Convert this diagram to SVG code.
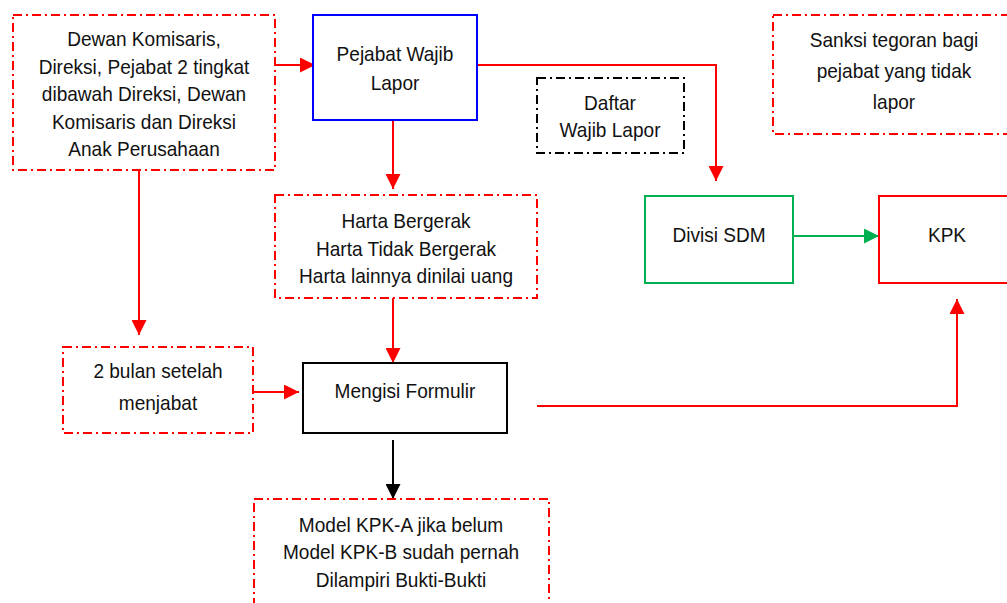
<svg xmlns="http://www.w3.org/2000/svg" width="1007" height="603" viewBox="0 0 1007 603">
<style>
.t{font-family:"Liberation Sans",Arial,sans-serif;font-size:20.5px;fill:#111;text-anchor:middle}
.dd{fill:#fff;stroke:#FF0000;stroke-width:2;stroke-dasharray:9 4 2 4}
.ddk{fill:#fff;stroke:#000;stroke-width:2;stroke-dasharray:9 4 2 4}
.c{fill:none;stroke-width:2}
</style>
<defs>
<marker id="ar" markerUnits="userSpaceOnUse" markerWidth="15" markerHeight="15" refX="15" refY="7.5" orient="auto"><path d="M0,0 L15,7.5 L0,15 z" fill="#FF0000"/></marker>
<marker id="ag" markerUnits="userSpaceOnUse" markerWidth="15" markerHeight="15" refX="15" refY="7.5" orient="auto"><path d="M0,0 L15,7.5 L0,15 z" fill="#00B050"/></marker>
<marker id="ak" markerUnits="userSpaceOnUse" markerWidth="15" markerHeight="15" refX="15" refY="7.5" orient="auto"><path d="M0,0 L15,7.5 L0,15 z" fill="#000"/></marker>
</defs>
<rect width="1007" height="603" fill="#fff"/>
<g id="connectors">
<path class="c" stroke="#FF0000" d="M275,65 H315" marker-end="url(#ar)"/>
<path class="c" stroke="#FF0000" d="M477,65 H716 V181" marker-end="url(#ar)"/>
<path class="c" stroke="#FF0000" d="M393,120 V189" marker-end="url(#ar)"/>
<path class="c" stroke="#FF0000" d="M393,298 V363" marker-end="url(#ar)"/>
<path class="c" stroke="#FF0000" d="M139,170 V335" marker-end="url(#ar)"/>
<path class="c" stroke="#FF0000" d="M253,392 H299" marker-end="url(#ar)"/>
<path class="c" stroke="#FF0000" d="M537,406 H957 V299" marker-end="url(#ar)"/>
<path class="c" stroke="#000" d="M393,440 V499" marker-end="url(#ak)"/>
<path class="c" stroke="#00B050" d="M793,236 H879" marker-end="url(#ag)"/>
</g>
<g id="dewan">
<rect class="dd" x="13" y="15" width="262" height="155"/>
<g transform="translate(144 0) scale(0.93 1)">
<text class="t" x="0" y="46.5">Dewan Komisaris,</text>
<text class="t" x="0" y="74">Direksi, Pejabat 2 tingkat</text>
<text class="t" x="0" y="101.5">dibawah Direksi, Dewan</text>
<text class="t" x="0" y="129">Komisaris dan Direksi</text>
<text class="t" x="0" y="156.5">Anak Perusahaan</text>
</g>
</g>
<g id="pejabat">
<rect x="313" y="15" width="164" height="105" fill="#fff" stroke="#0000FF" stroke-width="2"/>
<g transform="translate(395 0) scale(0.93 1)">
<text class="t" x="0" y="61">Pejabat Wajib</text>
<text class="t" x="0" y="90">Lapor</text>
</g>
</g>
<g id="daftar">
<rect class="ddk" x="537" y="78" width="147" height="75"/>
<g transform="translate(610 0) scale(0.93 1)">
<text class="t" x="0" y="110">Daftar</text>
<text class="t" x="0" y="137">Wajib Lapor</text>
</g>
</g>
<g id="sanksi">
<rect class="dd" x="773" y="15" width="250" height="119"/>
<g transform="translate(894 0) scale(0.93 1)">
<text class="t" x="0" y="47">Sanksi tegoran bagi</text>
<text class="t" x="0" y="78">pejabat yang tidak</text>
<text class="t" x="0" y="109">lapor</text>
</g>
</g>
<g id="divisi">
<rect x="645" y="196" width="148" height="87" fill="#fff" stroke="#00B050" stroke-width="2"/>
<g transform="translate(719 0) scale(0.93 1)">
<text class="t" x="0" y="242">Divisi SDM</text>
</g>
</g>
<g id="kpk">
<rect x="879" y="196" width="140" height="87" fill="#fff" stroke="#FF0000" stroke-width="2"/>
<g transform="translate(947 0) scale(0.93 1)">
<text class="t" x="0" y="242">KPK</text>
</g>
</g>
<g id="harta">
<rect class="dd" x="275" y="195" width="262" height="103"/>
<g transform="translate(406 0) scale(0.93 1)">
<text class="t" x="0" y="228">Harta Bergerak</text>
<text class="t" x="0" y="256">Harta Tidak Bergerak</text>
<text class="t" x="0" y="283">Harta lainnya dinilai uang</text>
</g>
</g>
<g id="mengisi">
<rect x="303" y="363" width="204" height="70" fill="#fff" stroke="#000" stroke-width="2"/>
<g transform="translate(405 0) scale(0.93 1)">
<text class="t" x="0" y="398">Mengisi Formulir</text>
</g>
</g>
<g id="bulan">
<rect class="dd" x="63" y="347" width="190" height="86"/>
<g transform="translate(158 0) scale(0.93 1)">
<text class="t" x="0" y="378">2 bulan setelah</text>
<text class="t" x="0" y="410">menjabat</text>
</g>
</g>
<g id="model">
<rect class="dd" x="254" y="499" width="295" height="120"/>
<g transform="translate(401 0) scale(0.93 1)">
<text class="t" x="0" y="532">Model KPK-A jika belum</text>
<text class="t" x="0" y="559">Model KPK-B sudah pernah</text>
<text class="t" x="0" y="587">Dilampiri Bukti-Bukti</text>
</g>
</g>
</svg>
